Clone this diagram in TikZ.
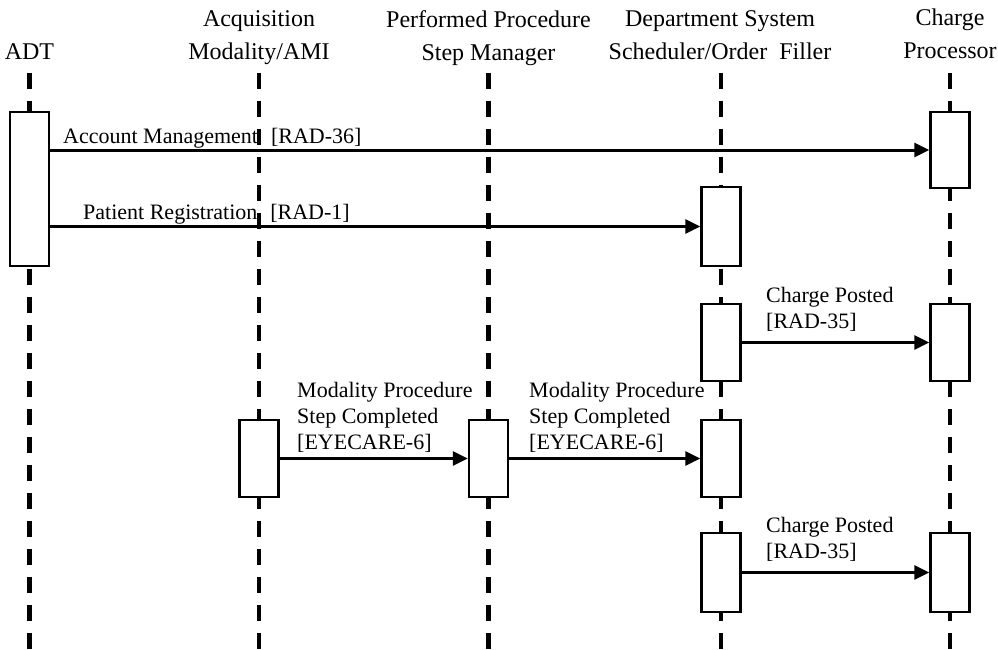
\documentclass[tikz,border=0pt]{standalone}
\usepackage{fontspec}
\setmainfont{Liberation Serif}
\usetikzlibrary{arrows.meta}
\begin{document}
\begin{tikzpicture}[x=1pt,y=-1pt,
  lifeline/.style={line width=4.5pt, dash pattern=on 16pt off 12pt},
  actbox/.style={draw, line width=2.5pt, fill=white, minimum width=39pt, inner sep=0pt},
  msg/.style={line width=3pt, -{Triangle[length=15pt,width=14pt]}},
  title/.style={font=\fontsize{24}{33}\selectfont, align=center, inner sep=0pt},
  lbl/.style={font=\fontsize{22}{26}\selectfont, inner sep=0pt},
  mlbl/.style={font=\fontsize{22}{26}\selectfont, align=left, inner sep=0pt, anchor=north west},
]
\path[fill=white] (0,0) rectangle (998,650);
\useasboundingbox (0,0) rectangle (998,650);

% titles
\node[title, anchor=base] (tADT) at (29.5,60) {ADT};
\node[title, anchor=north] (tACQ) at (259,10.6) {Acquisition\\Modality/AMI};
\node[title, anchor=north] (tPPS) at (488.5,10.6) {Performed Procedure\\Step Manager};
\node[title, anchor=north] (tDSS) at (720,10.6) {Department System\\Scheduler/Order\ \ Filler};
\node[title, anchor=north] (tCP) at (950,8.6) {Charge\\Processor};

% lifelines
\foreach \n/\x in {adt/29.5, acq/259, pps/488.5, dss/721, cp/950}{
  \coordinate (\n Top) at (\x,73);
  \coordinate (\n Bot) at (\x,650);
  \draw[lifeline] (\n Top) -- (\n Bot);
}

% activation boxes
\node[actbox, minimum height=154pt] (adt1) at (29.5,189) {};
\node[actbox, minimum height=76pt] (cp1) at (950,150) {};
\node[actbox, minimum height=79pt] (dss1) at (721,226.5) {};
\node[actbox, minimum height=77pt] (dss2) at (721,342.5) {};
\node[actbox, minimum height=77pt] (cp2) at (950,342.5) {};
\node[actbox, minimum height=77pt] (acq1) at (259,458.5) {};
\node[actbox, minimum height=77pt] (pps1) at (488.5,458.5) {};
\node[actbox, minimum height=77pt] (dss3) at (721,458.5) {};
\node[actbox, minimum height=79pt] (dss4) at (721,572.5) {};
\node[actbox, minimum height=79pt] (cp3) at (950,572.5) {};

% messages
\draw[msg] (adt1.east |- cp1.west) -- (cp1.west);
\draw[msg] (adt1.east |- dss1.west) -- (dss1.west);
\draw[msg] (dss2.east) -- (cp2.west);
\draw[msg] (acq1.east) -- (pps1.west);
\draw[msg] (pps1.east) -- (dss3.west);
\draw[msg] (dss4.east) -- (cp3.west);

% labels
\node[lbl, anchor=base west] (l1) at (63,143) {Account Management\hspace{13pt}[RAD-36]};
\node[lbl, anchor=base west] (l2) at (83,219) {Patient Registration\hspace{13pt}[RAD-1]};
\node[mlbl] (l3) at (766,287) {Charge Posted\\{[RAD-35]}};
\node[mlbl] (l4) at (297,382) {Modality Procedure\\Step Completed\\{[EYECARE-6]}};
\node[mlbl] (l5) at (529,382) {Modality Procedure\\Step Completed\\{[EYECARE-6]}};
\node[mlbl] (l6) at (766,517) {Charge Posted\\{[RAD-35]}};
\end{tikzpicture}
\end{document}
